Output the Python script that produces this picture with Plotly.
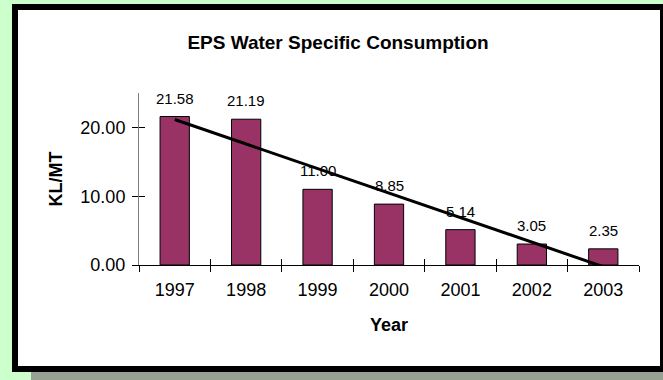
import numpy as np
import plotly.graph_objects as go

# Chart data
years = ["1997", "1998", "1999", "2000", "2001", "2002", "2003"]
consumption = [21.58, 21.19, 11.00, 8.85, 5.14, 3.05, 2.35]
y_ticks = [0, 10, 20]

# Linear trend through the yearly values
idx = np.arange(len(years))
slope, intercept = np.polyfit(idx, consumption, 1)
trend = (slope * idx + intercept).tolist()

W, H = 663, 380
ML, MR, MT, MB = 139, 24, 93, 115
PW, PH = W - ML - MR, H - MT - MB
FONT = "Liberation Sans, Arial, sans-serif"


def px(x):
    return (x - ML) / PW


def py(y):
    return (H - MB - y) / PH


fig = go.Figure()

fig.add_trace(go.Bar(
    x=years, y=consumption, width=0.41,
    marker=dict(color="#993366", line=dict(color="#000000", width=1)),
    xaxis="x", yaxis="y", showlegend=False, hoverinfo="skip",
))

fig.add_trace(go.Scatter(
    x=years, y=trend, mode="lines",
    line=dict(color="#000000", width=3),
    xaxis="x2", yaxis="y2", showlegend=False, cliponaxis=True,
))

# value labels above each bar (category index positions)
for i, v in enumerate(consumption):
    fig.add_annotation(
        x=i, y=v, xref="x", yref="y", text=f"{v:.2f}",
        showarrow=False, xanchor="center", yanchor="bottom", yshift=8,
        font=dict(family=FONT, size=15, color="#000000"),
    )

# framed panel on the green page
shapes = [
    dict(type="rect", xref="paper", yref="paper", layer="below",
         x0=px(31), x1=px(W + 10), y0=py(372), y1=py(H + 10),
         fillcolor="#97A194", line=dict(width=0)),
    dict(type="rect", xref="paper", yref="paper", layer="below",
         x0=px(12), x1=px(W + 10), y0=py(4), y1=py(372),
         fillcolor="#000000", line=dict(width=0)),
    dict(type="rect", xref="paper", yref="paper", layer="below",
         x0=px(18), x1=px(660), y0=py(10), y1=py(366),
         fillcolor="#FFFFFF", line=dict(width=0)),
]

axis_font = dict(family=FONT, size=18, color="#000000")

fig.update_layout(
    width=W, height=H,
    margin=dict(l=ML, r=MR, t=MT, b=MB, pad=0),
    paper_bgcolor="#CCFFCC",
    plot_bgcolor="#FFFFFF",
    shapes=shapes,
    title=dict(
        text="<b>EPS Water Specific Consumption</b>",
        x=338 / W, xref="container", xanchor="center",
        y=1 - 42 / H, yref="container", yanchor="middle",
        font=dict(family=FONT, size=19, color="#000000"),
    ),
    xaxis=dict(
        type="category", categoryorder="array", categoryarray=years,
        range=[-0.5, len(years) - 0.5],
        tickson="boundaries", ticks="outside", ticklen=6, tickwidth=1,
        tickcolor="#000000",
        showline=True, linecolor="#000000", linewidth=1,
        showgrid=False, zeroline=False,
        tickfont=axis_font, ticklabelstandoff=8,
        title=dict(text="<b>Year</b>", font=axis_font, standoff=19),
        fixedrange=True,
    ),
    yaxis=dict(
        range=[0, 25], tickvals=y_ticks, tickformat=".2f",
        ticks="outside", ticklen=6, tickwidth=1, tickcolor="#000000",
        showline=True, linecolor="#808080", linewidth=1,
        showgrid=False, zeroline=False,
        tickfont=axis_font, ticklabelstandoff=3,
        title=dict(text="<b>KL/MT</b>", font=axis_font, standoff=13),
        fixedrange=True,
    ),
    xaxis2=dict(
        type="category", categoryorder="array", categoryarray=years,
        range=[-0.5, len(years) - 0.5], overlaying="x", anchor="y2",
        tickson="boundaries", ticks="inside", ticklen=6, tickwidth=1,
        tickcolor="#000000", showticklabels=False,
        showline=False, showgrid=False, zeroline=False, fixedrange=True,
    ),
    yaxis2=dict(
        range=[0, 25], tickvals=y_ticks, overlaying="y", anchor="x2",
        ticks="inside", ticklen=6, tickwidth=1, tickcolor="#000000",
        showticklabels=False,
        showline=False, showgrid=False, zeroline=False, fixedrange=True,
    ),
)

fig.write_html("out.html")
